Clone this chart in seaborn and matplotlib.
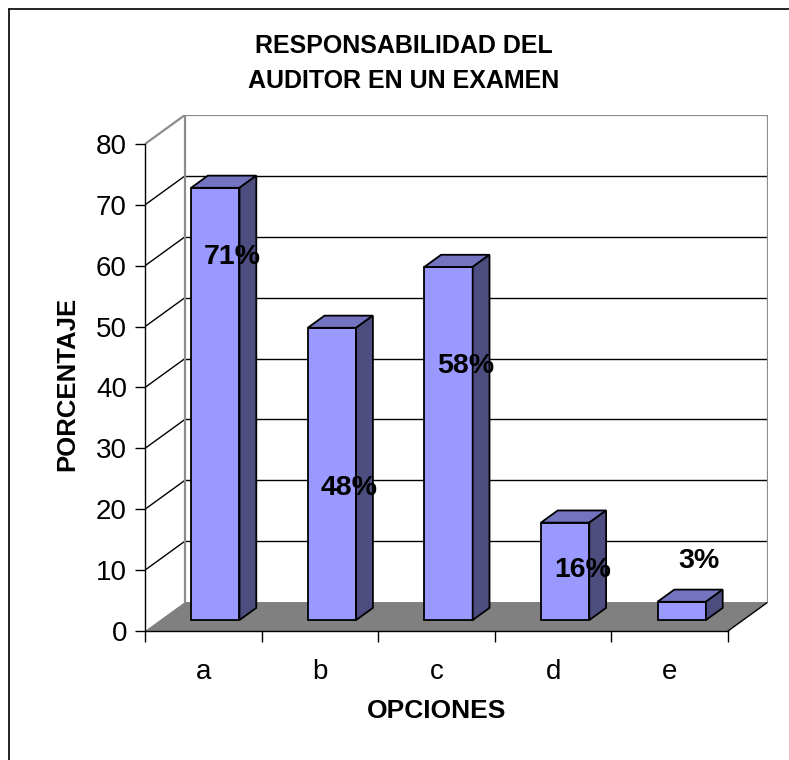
import matplotlib
matplotlib.use("Agg")
import numpy as np
import pandas as pd
import seaborn as sns
import matplotlib.pyplot as plt
from matplotlib.patches import Polygon
from matplotlib.transforms import Affine2D
from matplotlib.lines import Line2D

# ---- data ----
categories = ["a", "b", "c", "d", "e"]
values = [71, 48, 58, 16, 3]
value_labels = ["71%", "48%", "58%", "16%", "3%"]
label_heights = [61.5, 23.5, 43.5, 10.0, 11.5]   # where Excel put the data labels
yticks = [0, 10, 20, 30, 40, 50, 60, 70, 80]
title_lines = ["RESPONSABILIDAD DEL", "AUDITOR EN UN EXAMEN"]
xlabel = "OPCIONES"
ylabel = "PORCENTAJE"

df = pd.DataFrame({"opcion": categories, "valor": values})

# ---- style ----
sns.set_theme(style="white")
plt.rcParams["font.family"] = ["Liberation Sans", "DejaVu Sans"]
plt.rcParams["text.color"] = "black"
plt.rcParams["xtick.color"] = "black"
plt.rcParams["ytick.color"] = "black"
plt.rcParams["axes.labelcolor"] = "black"

W, H = 789, 760
fig = plt.figure(figsize=(W / 100, H / 100), dpi=100)
fig.patch.set_facecolor("white")

# 3-D depth of the chart floor, in data units
DX = 0.343
DY = 4.76
F0, F1 = 0.30, 0.72   # front / back depth fraction of the bars
YMAX = 80

ax = fig.add_axes([145 / W, 1 - 631 / H, 623 / W, 516 / H])
ax.set_facecolor("none")

sns.barplot(data=df, x="opcion", y="valor", width=0.415, color="#9999FF",
            saturation=1, edgecolor="black", linewidth=1.3, ax=ax, zorder=5)

ax.set_xlim(-0.5, 4.5 + DX)
ax.set_ylim(0, YMAX + DY)

# floor
ax.add_patch(Polygon([(-0.5, 0), (4.5, 0), (4.5 + DX, DY), (-0.5 + DX, DY)],
                     closed=True, facecolor="#808080", edgecolor="none", zorder=1))
ax.add_line(Line2D([4.5, 4.5 + DX], [0, DY], color="black", lw=1.0, zorder=2))

# walls / gridlines
for v in yticks[1:]:
    c = "#8c8c8c" if v == YMAX else "black"
    lw = 1.6 if v == YMAX else 1.0
    ax.add_line(Line2D([-0.5, -0.5 + DX], [v, v + DY], color=c, lw=lw, zorder=2))
    ax.add_line(Line2D([-0.5 + DX, 4.5 + DX], [v + DY, v + DY], color=c, lw=lw, zorder=2))
for xx in (-0.5 + DX, 4.5 + DX):
    ax.add_line(Line2D([xx, xx], [DY, YMAX + DY], color="#8c8c8c", lw=1.6, zorder=2))

# 3-D bar faces
shift = Affine2D().translate(F0 * DX, 1.8) + ax.transData
bdx = (F1 - F0) * DX
bdy = (F1 - F0) * DY
for p in list(ax.containers[0]):
    p.set_transform(shift)
    xl, w, h = p.get_x(), p.get_width(), p.get_height()
    xr = xl + w
    top = Polygon([(xl, h), (xr, h), (xr + bdx, h + bdy), (xl + bdx, h + bdy)],
                  closed=True, facecolor="#7373BF", edgecolor="black", lw=1.3,
                  transform=shift, zorder=5)
    side = Polygon([(xr, 0), (xr + bdx, bdy), (xr + bdx, h + bdy), (xr, h)],
                   closed=True, facecolor="#4D4D80", edgecolor="black", lw=1.3,
                   transform=shift, zorder=5)
    ax.add_patch(top)
    ax.add_patch(side)

# value labels
for i, (lab, hy) in enumerate(zip(value_labels, label_heights)):
    ax.text(i + 0.25, hy, lab, ha="center", va="center", fontsize=20.5,
            fontweight="bold", color="black", zorder=10)

# axes
for s in ("top", "right"):
    ax.spines[s].set_visible(False)
ax.spines["left"].set_bounds(0, YMAX)
ax.spines["bottom"].set_bounds(-0.5, 4.5)
for s in ("left", "bottom"):
    ax.spines[s].set_color("black")
    ax.spines[s].set_linewidth(1.0)
    ax.spines[s].set_zorder(6)

ax.set_yticks(yticks)
ax.set_yticklabels([str(v) for v in yticks], fontsize=20)
ax.set_xticks(np.arange(-0.5, 5, 1.0))
ax.set_xticklabels([])
ax.set_xticks(np.arange(len(categories)), minor=True)
ax.set_xticklabels(categories, minor=True, fontsize=20)
ax.tick_params(axis="y", which="major", direction="out", length=7, width=1,
               color="black", labelcolor="black", pad=6, left=True)
ax.tick_params(axis="x", which="major", direction="out", length=8, width=1,
               color="black", bottom=True)
ax.tick_params(axis="x", which="minor", length=0, pad=20, labelcolor="black")
ax.set_xlabel("")
ax.set_ylabel("")

for yy, line in zip((46, 81), title_lines):
    fig.text(404 / W, 1 - yy / H, line, ha="center", va="center", fontsize=18,
             fontweight="bold", color="black")
fig.text(437 / W, 1 - 711 / H, xlabel, ha="center", va="center", fontsize=19,
         fontweight="bold", color="black")
fig.text(67 / W, 1 - 384 / H, ylabel, ha="center", va="center", fontsize=18.5,
         fontweight="bold", rotation=90, color="black")

# chart border (left and top edges visible)
fig.add_artist(Line2D([9 / W, 9 / W], [0, 1 - 9 / H], color="black", lw=1.2,
                      transform=fig.transFigure))
fig.add_artist(Line2D([9 / W, 1], [1 - 9 / H, 1 - 9 / H], color="black", lw=1.2,
                      transform=fig.transFigure))

fig.savefig("out.png", dpi=100)
